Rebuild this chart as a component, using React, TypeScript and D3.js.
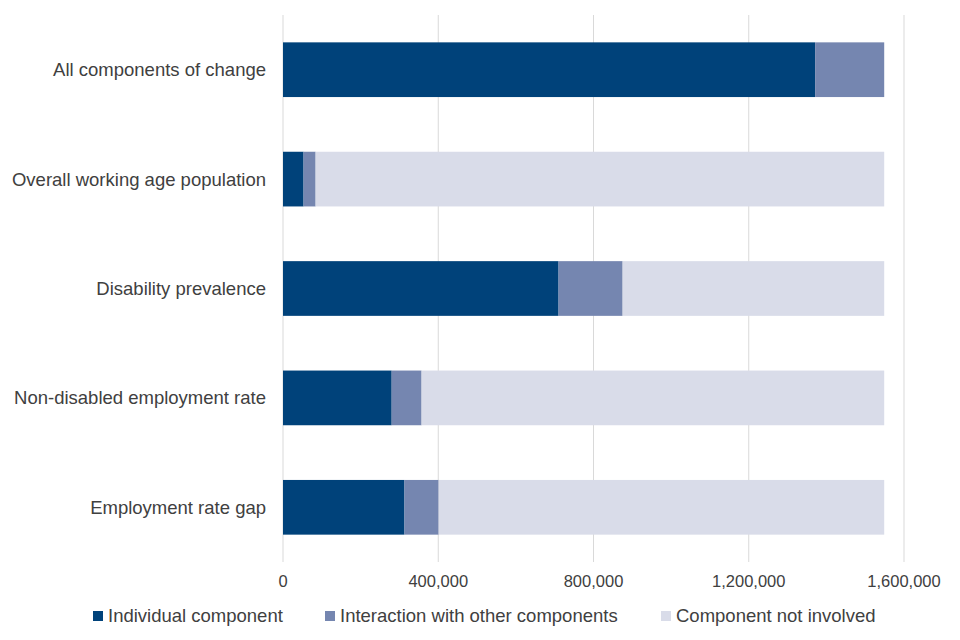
import React, { useEffect, useRef } from 'react';
import * as d3 from 'd3';

const categories = [
  'All components of change',
  'Overall working age population',
  'Disability prevalence',
  'Non-disabled employment rate',
  'Employment rate gap',
];
const seriesNames = ['Individual component', 'Interaction with other components', 'Component not involved'];
const individual = [1371000, 53000, 710000, 280000, 313000];
const interaction = [178000, 31000, 165000, 77000, 88000];
const notInvolved = [0, 1465000, 674000, 1192000, 1148000];
const xTicks = [0, 400000, 800000, 1200000, 1600000];
const colors = ['#00427a', '#7586b0', '#d9dce9'];

const App: React.FC = () => {
  const svgRef = useRef<SVGSVGElement>(null);

  useEffect(() => {
    if (!svgRef.current) return;
    const svg = d3.select(svgRef.current);
    svg.selectAll('*').remove();

    const width = 960;
    const height = 640;
    const margin = { top: 15, right: 56, bottom: 78, left: 283 };
    const font = '"Liberation Sans", Arial, sans-serif';
    const textColor = '#404040';

    const x = d3.scaleLinear().domain([0, 1600000]).range([margin.left, width - margin.right]);
    const y = d3
      .scaleBand<string>()
      .domain(categories)
      .range([margin.top, height - margin.bottom])
      .paddingInner(0.5)
      .paddingOuter(0.25);

    const rows = categories.map((c, i) => ({
      category: c,
      [seriesNames[0]]: individual[i],
      [seriesNames[1]]: interaction[i],
      [seriesNames[2]]: notInvolved[i],
    }));
    const stacked = d3.stack<any>().keys(seriesNames)(rows);

    // gridlines
    svg
      .append('g')
      .selectAll('line')
      .data(xTicks)
      .join('line')
      .attr('x1', (d) => x(d))
      .attr('x2', (d) => x(d))
      .attr('y1', margin.top)
      .attr('y2', height - margin.bottom)
      .attr('stroke', '#d9d9d9')
      .attr('stroke-width', 1);

    // bars
    svg
      .append('g')
      .selectAll('g')
      .data(stacked)
      .join('g')
      .attr('fill', (_, i) => colors[i])
      .selectAll('rect')
      .data((d) => d)
      .join('rect')
      .attr('x', (d) => x(d[0]))
      .attr('width', (d) => Math.max(0, x(d[1]) - x(d[0])))
      .attr('y', (d) => y(d.data.category)!)
      .attr('height', y.bandwidth());

    // category labels
    svg
      .append('g')
      .selectAll('text')
      .data(categories)
      .join('text')
      .attr('x', margin.left - 17)
      .attr('y', (d) => y(d)! + y.bandwidth() / 2)
      .attr('dy', '0.35em')
      .attr('text-anchor', 'end')
      .attr('font-family', font)
      .attr('font-size', 18.5)
      .attr('fill', textColor)
      .text((d) => d);

    // x tick labels
    svg
      .append('g')
      .selectAll('text')
      .data(xTicks)
      .join('text')
      .attr('x', (d) => x(d))
      .attr('y', height - margin.bottom + 25)
      .attr('text-anchor', 'middle')
      .attr('font-family', font)
      .attr('font-size', 16.5)
      .attr('fill', textColor)
      .text((d) => d3.format(',')(d));

    // legend
    const legendX = [93, 325, 661];
    const legend = svg
      .append('g')
      .selectAll('g')
      .data(seriesNames)
      .join('g')
      .attr('transform', (_, i) => `translate(${legendX[i]},616)`);
    legend
      .append('rect')
      .attr('x', 0)
      .attr('y', -5)
      .attr('width', 10)
      .attr('height', 10)
      .attr('fill', (_, i) => colors[i]);
    legend
      .append('text')
      .attr('x', 15)
      .attr('dy', '0.35em')
      .attr('font-family', font)
      .attr('font-size', 18.5)
      .attr('fill', textColor)
      .text((d) => d);
  }, []);

  return (
    <svg
      ref={svgRef}
      width={960}
      height={640}
      style={{ display: 'block', position: 'absolute', left: 0, top: 0, background: '#fff' }}
    />
  );
};

export default App;
